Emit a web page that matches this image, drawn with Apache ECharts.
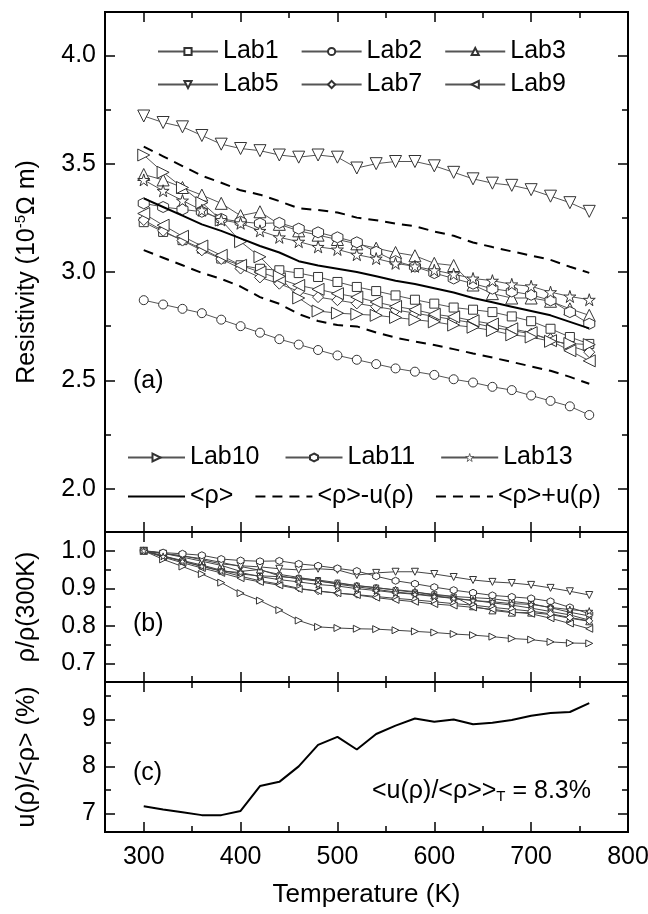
<!DOCTYPE html>
<html>
<head>
<meta charset="utf-8">
<title>Resistivity vs temperature</title>
<script src="https://cdn.jsdelivr.net/npm/echarts@6/dist/echarts.min.js"></script>
<style>
  html, body { margin: 0; padding: 0; background: #fff; }
  #chart { width: 648px; height: 914px; }
</style>
</head>
<body>
<div id="chart"></div>
<script>
// temperatures (K)
const temps = [300, 320, 340, 360, 380, 400, 420, 440, 460, 480, 500, 520, 540, 560, 580, 600, 620, 640, 660, 680, 700, 720, 740, 760];

// panel (a): resistivity, 10^-5 ohm m
const lab1 = [3.23, 3.185, 3.147, 3.108, 3.062, 3.031, 3.015, 3.008, 2.995, 2.977, 2.954, 2.931, 2.912, 2.892, 2.872, 2.854, 2.836, 2.826, 2.815, 2.795, 2.773, 2.738, 2.70, 2.668];
const lab2 = [2.87, 2.85, 2.83, 2.81, 2.78, 2.75, 2.72, 2.69, 2.665, 2.64, 2.615, 2.595, 2.575, 2.555, 2.54, 2.525, 2.505, 2.49, 2.47, 2.455, 2.43, 2.405, 2.38, 2.34];
const lab3 = [3.45, 3.425, 3.39, 3.355, 3.317, 3.26, 3.278, 3.22, 3.19, 3.17, 3.15, 3.13, 3.11, 3.09, 3.075, 3.04, 3.03, 2.94, 2.90, 2.88, 2.88, 2.865, 2.83, 2.80];
const lab5 = [3.72, 3.69, 3.67, 3.63, 3.59, 3.57, 3.56, 3.54, 3.53, 3.54, 3.53, 3.48, 3.50, 3.51, 3.51, 3.49, 3.46, 3.43, 3.41, 3.40, 3.38, 3.35, 3.32, 3.28];
const lab7 = [3.24, 3.19, 3.145, 3.10, 3.06, 3.016, 2.975, 2.946, 2.91, 2.884, 2.87, 2.855, 2.84, 2.825, 2.81, 2.795, 2.78, 2.765, 2.745, 2.73, 2.715, 2.69, 2.66, 2.63];
const lab9 = [3.27, 3.216, 3.165, 3.12, 3.077, 3.031, 3.00, 2.969, 2.938, 2.92, 2.90, 2.884, 2.861, 2.841, 2.826, 2.805, 2.793, 2.775, 2.76, 2.738, 2.72, 2.683, 2.637, 2.59];
const lab10 = [3.54, 3.46, 3.39, 3.32, 3.24, 3.14, 3.07, 2.98, 2.88, 2.82, 2.81, 2.805, 2.80, 2.79, 2.78, 2.77, 2.755, 2.745, 2.73, 2.71, 2.70, 2.68, 2.67, 2.665];
const lab11 = [3.317, 3.30, 3.289, 3.278, 3.245, 3.232, 3.224, 3.227, 3.20, 3.183, 3.16, 3.137, 3.093, 3.05, 3.025, 2.995, 2.97, 2.946, 2.923, 2.91, 2.895, 2.869, 2.815, 2.761];
const lab13 = [3.425, 3.375, 3.33, 3.285, 3.24, 3.225, 3.19, 3.16, 3.14, 3.116, 3.104, 3.08, 3.062, 3.04, 3.026, 3.008, 2.99, 2.97, 2.96, 2.943, 2.934, 2.907, 2.887, 2.872];
const meanRho = [3.34, 3.30, 3.26, 3.22, 3.19, 3.155, 3.12, 3.09, 3.05, 3.03, 3.015, 3.00, 2.98, 2.96, 2.945, 2.925, 2.905, 2.88, 2.86, 2.84, 2.82, 2.80, 2.77, 2.74];
const meanMinusU = [3.101, 3.066, 3.031, 2.996, 2.968, 2.933, 2.884, 2.853, 2.806, 2.774, 2.755, 2.749, 2.721, 2.697, 2.679, 2.663, 2.644, 2.624, 2.605, 2.585, 2.564, 2.544, 2.516, 2.484];
const meanPlusU = [3.579, 3.534, 3.489, 3.444, 3.412, 3.377, 3.357, 3.327, 3.294, 3.286, 3.275, 3.251, 3.239, 3.223, 3.211, 3.187, 3.167, 3.136, 3.115, 3.095, 3.076, 3.056, 3.024, 2.996];

// panel (b): rho / rho(300K)
const ratio1 = [1, 0.986, 0.974, 0.962, 0.948, 0.938, 0.933, 0.931, 0.927, 0.922, 0.915, 0.907, 0.902, 0.895, 0.889, 0.884, 0.878, 0.875, 0.872, 0.865, 0.859, 0.848, 0.836, 0.826];
const ratio2 = [1, 0.993, 0.986, 0.979, 0.969, 0.958, 0.948, 0.937, 0.929, 0.920, 0.911, 0.904, 0.897, 0.890, 0.885, 0.880, 0.873, 0.868, 0.861, 0.855, 0.847, 0.838, 0.829, 0.815];
const ratio3 = [1, 0.993, 0.983, 0.972, 0.961, 0.945, 0.950, 0.933, 0.925, 0.919, 0.913, 0.907, 0.901, 0.896, 0.891, 0.881, 0.878, 0.852, 0.841, 0.835, 0.835, 0.830, 0.820, 0.812];
const ratio5 = [1, 0.992, 0.987, 0.976, 0.965, 0.960, 0.957, 0.952, 0.949, 0.952, 0.949, 0.935, 0.941, 0.944, 0.944, 0.938, 0.930, 0.922, 0.917, 0.914, 0.909, 0.901, 0.892, 0.882];
const ratio7 = [1, 0.986, 0.972, 0.958, 0.946, 0.932, 0.920, 0.911, 0.900, 0.892, 0.887, 0.883, 0.878, 0.873, 0.869, 0.864, 0.859, 0.855, 0.849, 0.844, 0.839, 0.832, 0.822, 0.813];
const ratio9 = [1, 0.983, 0.968, 0.954, 0.941, 0.927, 0.917, 0.908, 0.898, 0.893, 0.887, 0.882, 0.875, 0.869, 0.864, 0.858, 0.854, 0.849, 0.844, 0.837, 0.832, 0.820, 0.806, 0.792];
const ratio10 = [1, 0.977, 0.958, 0.938, 0.915, 0.887, 0.867, 0.842, 0.814, 0.797, 0.794, 0.792, 0.791, 0.788, 0.785, 0.782, 0.778, 0.775, 0.771, 0.766, 0.763, 0.757, 0.754, 0.753];
const ratio11 = [1, 0.995, 0.992, 0.988, 0.978, 0.974, 0.972, 0.973, 0.965, 0.960, 0.953, 0.946, 0.932, 0.920, 0.912, 0.903, 0.895, 0.888, 0.881, 0.877, 0.873, 0.865, 0.849, 0.832];
const ratio13 = [1, 0.985, 0.972, 0.959, 0.946, 0.942, 0.931, 0.923, 0.917, 0.910, 0.906, 0.899, 0.894, 0.888, 0.884, 0.878, 0.873, 0.867, 0.864, 0.859, 0.857, 0.849, 0.843, 0.839];

// panel (c): u(rho)/<rho> in %
const uPercent = [7.15, 7.08, 7.02, 6.96, 6.96, 7.05, 7.58, 7.67, 8.0, 8.46, 8.63, 8.36, 8.69, 8.87, 9.02, 8.95, 9.0, 8.9, 8.93, 8.99, 9.08, 9.14, 9.16, 9.35];

// ticks
const xMajor = [300, 400, 500, 600, 700, 800];
const xMinor = [350, 450, 550, 650, 750];
const resMajor = [2.0, 2.5, 3.0, 3.5, 4.0];
const resMinor = [2.25, 2.75, 3.25, 3.75];
const ratioMajor = [0.7, 0.8, 0.9, 1.0];
const ratioMinor = [0.75, 0.85, 0.95];
const uMajor = [7, 8, 9];
const uMinor = [7.5, 8.5, 9.5];

const FONT = "'Liberation Sans', Arial, sans-serif";
const hexagon = 'path://M0,-1L0.866,-0.5L0.866,0.5L0,1L-0.866,0.5L-0.866,-0.5Z';
const star = 'path://M0,-1L0.2245,-0.309L0.951,-0.309L0.363,0.118L0.588,0.809L0,0.382L-0.588,0.809L-0.363,0.118L-0.951,-0.309L-0.2245,-0.309Z';

const labs = [
  { name: 'Lab1', rho: lab1, ratio: ratio1, symbol: 'rect', rotate: 0, size: 9 },
  { name: 'Lab2', rho: lab2, ratio: ratio2, symbol: 'circle', rotate: 0, size: 9 },
  { name: 'Lab3', rho: lab3, ratio: ratio3, symbol: 'triangle', rotate: 0, size: 12 },
  { name: 'Lab5', rho: lab5, ratio: ratio5, symbol: 'triangle', rotate: 180, size: 12 },
  { name: 'Lab7', rho: lab7, ratio: ratio7, symbol: 'diamond', rotate: 0, size: 11 },
  { name: 'Lab9', rho: lab9, ratio: ratio9, symbol: 'triangle', rotate: 90, size: 12 },
  { name: 'Lab10', rho: lab10, ratio: ratio10, symbol: 'triangle', rotate: -90, size: 12 },
  { name: 'Lab11', rho: lab11, ratio: ratio11, symbol: hexagon, rotate: 0, size: 11 },
  { name: 'Lab13', rho: lab13, ratio: ratio13, symbol: star, rotate: 0, size: 12 }
];

const pairs = (ys) => temps.map((t, i) => [t, ys[i]]);

const tickStyle = { color: '#000', width: 1.5 };
const labelStyle = { fontSize: 25, color: '#000', fontFamily: FONT };

// major + minor ticks on both edges of every panel
function xAxesFor(grid, showLabel, extra) {
  const out = [];
  ['bottom', 'top'].forEach((pos) => {
    const base = {
      gridIndex: grid, type: 'value', min: 260, max: 800, position: pos,
      splitLine: { show: false },
      axisLine: { onZero: false, lineStyle: { color: '#000', width: 2 } }
    };
    out.push(Object.assign({}, base, {
      axisTick: { inside: true, length: 10, customValues: xMajor, lineStyle: tickStyle },
      axisLabel: Object.assign({ show: showLabel && pos === 'bottom', customValues: xMajor, margin: 13 }, labelStyle)
    }, pos === 'bottom' ? extra : {}));
    out.push(Object.assign({}, base, {
      axisTick: { inside: true, length: 6, customValues: xMinor, lineStyle: tickStyle },
      axisLabel: { show: false }
    }));
  });
  return out;
}

function yAxesFor(grid, min, max, major, minor, fmt, extra) {
  const out = [];
  ['left', 'right'].forEach((pos) => {
    const base = {
      gridIndex: grid, type: 'value', min: min, max: max, position: pos,
      splitLine: { show: false },
      axisLine: { onZero: false, lineStyle: { color: '#000', width: 2 } }
    };
    out.push(Object.assign({}, base, {
      axisTick: { inside: true, length: 10, customValues: major, lineStyle: tickStyle },
      axisLabel: Object.assign({ show: pos === 'left', customValues: major, margin: 9, formatter: fmt }, labelStyle)
    }, pos === 'left' ? extra : {}));
    out.push(Object.assign({}, base, {
      axisTick: { inside: true, length: 6, customValues: minor, lineStyle: tickStyle },
      axisLabel: { show: false }
    }));
  });
  return out;
}

const yName = (text, rich) => ({
  name: text, nameLocation: 'middle', nameRotate: 90, nameGap: 64,
  nameTextStyle: { fontSize: 25, color: '#000', fontFamily: FONT, lineHeight: 28, rich: rich || {} }
});

const series = [];
labs.forEach((lab) => {
  series.push({
    name: lab.name, type: 'line', xAxisIndex: 0, yAxisIndex: 0,
    data: pairs(lab.rho), symbol: lab.symbol, symbolRotate: lab.rotate, symbolSize: lab.size,
    showAllSymbol: true, z: 3,
    itemStyle: { color: '#fff', borderColor: '#333', borderWidth: 1 },
    lineStyle: { color: '#555', width: 1 },
    emphasis: { disabled: true }
  });
});
series.push(
  { name: '<ρ>', type: 'line', xAxisIndex: 0, yAxisIndex: 0, data: pairs(meanRho), symbol: 'none', z: 4,
    lineStyle: { color: '#000', width: 2 }, itemStyle: { color: '#000' }, emphasis: { disabled: true } },
  { name: '<ρ>-u(ρ)', type: 'line', xAxisIndex: 0, yAxisIndex: 0, data: pairs(meanMinusU), symbol: 'none', z: 4,
    lineStyle: { color: '#000', width: 2, type: [10, 7] }, itemStyle: { color: '#000' }, emphasis: { disabled: true } },
  { name: '<ρ>+u(ρ)', type: 'line', xAxisIndex: 0, yAxisIndex: 0, data: pairs(meanPlusU), symbol: 'none', z: 4,
    lineStyle: { color: '#000', width: 2, type: [10, 7] }, itemStyle: { color: '#000' }, emphasis: { disabled: true } }
);
labs.forEach((lab) => {
  series.push({
    name: lab.name, type: 'line', xAxisIndex: 4, yAxisIndex: 4,
    data: pairs(lab.ratio), symbol: lab.symbol, symbolRotate: lab.rotate, symbolSize: Math.round(lab.size * 0.6),
    showAllSymbol: true, z: 3,
    itemStyle: { color: '#fff', borderColor: '#333', borderWidth: 1 },
    lineStyle: { color: '#444', width: 1 },
    emphasis: { disabled: true }
  });
});
series.push({
  name: 'u', type: 'line', xAxisIndex: 8, yAxisIndex: 8, data: pairs(uPercent), symbol: 'none',
  lineStyle: { color: '#000', width: 2 }, emphasis: { disabled: true }
});

const legendBase = {
  padding: 0, itemHeight: 9, selectedMode: false,
  textStyle: { fontSize: 25, color: '#000', fontFamily: FONT }
};
// mean lines have no marker: hide the legend dot
const noMark = (name) => ({ name: name, itemStyle: { opacity: 0, color: 'rgba(0,0,0,0)', borderWidth: 0 } });

const chart = echarts.init(document.getElementById('chart'));
chart.setOption({
  animation: false,
  backgroundColor: '#fff',
  textStyle: { fontFamily: FONT },
  grid: [
    { left: 105, right: 20, top: 12, height: 520, containLabel: false, outerBoundsMode: 'none' },
    { left: 105, right: 20, top: 532, height: 150, containLabel: false, outerBoundsMode: 'none' },
    { left: 105, right: 20, top: 682, height: 150, containLabel: false, outerBoundsMode: 'none' }
  ],
  xAxis: [].concat(
    xAxesFor(0, false, {}),
    xAxesFor(1, false, {}),
    xAxesFor(2, true, {
      name: 'Temperature (K)', nameLocation: 'middle', nameGap: 50,
      nameTextStyle: { fontSize: 26, color: '#000', fontFamily: FONT }
    })
  ),
  yAxis: [].concat(
    yAxesFor(0, 1.8, 4.2, resMajor, resMinor, (v) => v.toFixed(1),
      yName('Resistivity (10{s|-5}\u03A9 m)', { s: { fontSize: 15, verticalAlign: 'top', fontFamily: FONT } })),
    yAxesFor(1, 0.65, 1.05, ratioMajor, ratioMinor, (v) => v.toFixed(1), yName('ρ/ρ(300K)')),
    yAxesFor(2, 6.6, 9.8, uMajor, uMinor, (v) => String(Math.round(v)), yName('u(ρ)/<ρ> (%)'))
  ),
  legend: [
    Object.assign({}, legendBase, { data: ['Lab1', 'Lab2', 'Lab3'], left: 157, top: 39, itemWidth: 60, itemGap: 22 }),
    Object.assign({}, legendBase, { data: ['Lab5', 'Lab7', 'Lab9'], left: 157, top: 72, itemWidth: 60, itemGap: 22 }),
    Object.assign({}, legendBase, {
      data: ['Lab10', 'Lab11', { name: 'Lab13', itemStyle: { borderWidth: 0.7 } }],
      left: 127, top: 445, itemWidth: 57, itemHeight: 10, itemGap: 25
    }),
    Object.assign({}, legendBase, {
      data: [noMark('<ρ>'), noMark('<ρ>-u(ρ)'), noMark('<ρ>+u(ρ)')],
      left: 127, top: 484, itemWidth: 57, itemGap: 21
    })
  ],
  graphic: [
    { type: 'text', left: 133, top: 369, style: { text: '(a)', fontSize: 25, fontFamily: FONT, fill: '#000' } },
    { type: 'text', left: 133, top: 612, style: { text: '(b)', fontSize: 25, fontFamily: FONT, fill: '#000' } },
    { type: 'text', left: 133, top: 761, style: { text: '(c)', fontSize: 25, fontFamily: FONT, fill: '#000' } },
    { type: 'text', left: 372, top: 779, style: {
        text: '<u(ρ)/<ρ>>{t|T} = 8.3%', fontSize: 25, fontFamily: FONT, fill: '#000',
        rich: { t: { fontSize: 15, fontFamily: FONT, verticalAlign: 'bottom', fill: '#000' } }
    } }
  ],
  series: series
});
</script>
</body>
</html>
